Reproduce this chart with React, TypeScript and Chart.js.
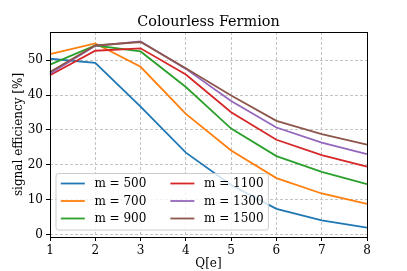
import React, { useEffect, useRef } from "react";
import { Chart, registerables } from "chart.js";

Chart.register(...registerables);

const chartTitle = "Colourless Fermion";
const xTitle = "Q[e]";
const yTitle = "signal efficiency [%]";
const qLabels = ["1", "2", "3", "4", "5", "6", "7", "8"];
const yTicks = [0, 10, 20, 30, 40, 50];

const seriesLabels = ["m = 500", "m = 700", "m = 900", "m = 1100", "m = 1300", "m = 1500"];
const seriesColors = ["#1f77b4", "#ff7f0e", "#2ca02c", "#d62728", "#9467bd", "#8c564b"];

const m500 = [50.4, 49.2, 36.7, 23.5, 14.2, 7.4, 4.1, 2.0];
const m700 = [51.7, 54.8, 48.1, 34.6, 24.1, 16.2, 11.8, 8.8];
const m900 = [48.7, 54.2, 52.5, 42.3, 30.4, 22.5, 18.0, 14.5];
const m1100 = [45.7, 52.7, 53.4, 45.9, 35.1, 27.2, 22.8, 19.5];
const m1300 = [46.1, 54.1, 55.4, 47.5, 38.3, 30.7, 26.4, 23.1];
const m1500 = [46.6, 54.2, 55.2, 47.7, 39.9, 32.6, 28.8, 25.8];

const seriesValues = [m500, m700, m900, m1100, m1300, m1500];

const FONT = '"DejaVu Serif", serif';
const FS = 12;

const framePlugin = {
  id: "mplFrame",
  afterDraw(chart: any) {
    const { ctx, chartArea: ca } = chart;
    ctx.save();
    // title
    ctx.font = `${FS * 1.2}px ${FONT}`;
    ctx.fillStyle = "#000";
    ctx.textAlign = "center";
    ctx.textBaseline = "alphabetic";
    ctx.fillText(chartTitle, (ca.left + ca.right) / 2, ca.top - 6);

    // spines
    ctx.strokeStyle = "#000";
    ctx.lineWidth = 1;
    ctx.strokeRect(Math.round(ca.left) + 0.5, Math.round(ca.top) + 0.5, Math.round(ca.right - ca.left), Math.round(ca.bottom - ca.top));

    // legend (2 columns, lower left)
    ctx.font = `${FS}px ${FONT}`;
    const em = FS;
    const handle = 2 * em;
    const textPad = 0.8 * em;
    const colSpace = 2 * em;
    const borderPad = 0.4 * em;
    const rowH = 17.5;
    const nRows = 3;
    const cols = [seriesLabels.slice(0, nRows), seriesLabels.slice(nRows)];
    const colWidths = cols.map((c) => handle + textPad + Math.max(...c.map((t) => ctx.measureText(t).width)));
    const boxW = borderPad * 2 + colWidths[0] + colSpace + colWidths[1];
    const boxH = 56.5;
    const boxL = ca.left + 0.5 * em;
    const boxB = ca.bottom - 7;
    const boxT = boxB - boxH;
    const r = 2.5;
    ctx.beginPath();
    ctx.moveTo(boxL + r, boxT);
    ctx.lineTo(boxL + boxW - r, boxT);
    ctx.arcTo(boxL + boxW, boxT, boxL + boxW, boxT + r, r);
    ctx.lineTo(boxL + boxW, boxB - r);
    ctx.arcTo(boxL + boxW, boxB, boxL + boxW - r, boxB, r);
    ctx.lineTo(boxL + r, boxB);
    ctx.arcTo(boxL, boxB, boxL, boxB - r, r);
    ctx.lineTo(boxL, boxT + r);
    ctx.arcTo(boxL, boxT, boxL + r, boxT, r);
    ctx.closePath();
    ctx.fillStyle = "rgba(255,255,255,0.8)";
    ctx.fill();
    ctx.strokeStyle = "#cccccc";
    ctx.lineWidth = 1;
    ctx.stroke();

    const firstRowY = boxT + 10;
    seriesLabels.forEach((label, i) => {
      const col = Math.floor(i / nRows);
      const row = i % nRows;
      const x0 = boxL + borderPad + (col === 0 ? 0 : colWidths[0] + colSpace);
      const y = firstRowY + row * rowH;
      ctx.strokeStyle = seriesColors[i];
      ctx.lineWidth = 1.8;
      ctx.beginPath();
      ctx.moveTo(x0, y);
      ctx.lineTo(x0 + handle, y);
      ctx.stroke();
      ctx.fillStyle = "#000";
      ctx.textAlign = "left";
      ctx.textBaseline = "middle";
      ctx.fillText(label, x0 + handle + textPad, y + 0.5);
    });
    ctx.restore();
  },
};

export default function App() {
  const canvasRef = useRef<HTMLCanvasElement | null>(null);

  useEffect(() => {
    document.body.style.margin = "0";
    const canvas = canvasRef.current;
    if (!canvas) return;
    const chart = new Chart(canvas, {
      type: "line",
      data: {
        labels: qLabels,
        datasets: seriesValues.map((vals, i) => ({
          label: seriesLabels[i],
          data: vals,
          borderColor: seriesColors[i],
          backgroundColor: seriesColors[i],
          borderWidth: 1.8,
          pointRadius: 0,
          tension: 0,
          fill: false,
          order: -i,
        })),
      },
      options: {
        responsive: false,
        animation: false,
        devicePixelRatio: 1,
        layout: { padding: { top: 32, right: 40, left: 0, bottom: 0 } },
        plugins: {
          legend: { display: false },
          title: { display: false },
          tooltip: { enabled: false },
        },
        scales: {
          x: {
            type: "category",
            offset: false,
            afterFit: (s: any) => {
              s.height = 34;
              s.paddingLeft = 0;
              s.paddingRight = 0;
            },
            grid: {
              offset: false,
              color: "#c4c4c4",
              lineWidth: 1,
              tickLength: 4,
              tickColor: "#000",
              tickWidth: 1,
              tickBorderDash: [],
            },
            border: { display: false, dash: [3, 2] },
            ticks: {
              color: "#000",
              font: { family: FONT, size: FS },
              padding: 3,
              maxRotation: 0,
              autoSkip: false,
            },
            title: {
              display: true,
              text: xTitle,
              color: "#000",
              font: { family: FONT, size: FS },
              padding: { top: 0, bottom: 0 },
            },
          },
          y: {
            type: "linear",
            min: -0.67,
            max: 58.07,
            afterFit: (s: any) => {
              s.width = 50;
            },
            afterBuildTicks: (s: any) => {
              s.ticks = yTicks.map((v) => ({ value: v }));
            },
            grid: {
              color: "#c4c4c4",
              lineWidth: 1,
              tickLength: 4,
              tickColor: "#000",
              tickWidth: 1,
              tickBorderDash: [],
            },
            border: { display: false, dash: [3, 2] },
            ticks: {
              color: "#000",
              font: { family: FONT, size: FS },
              padding: 3,
            },
            title: {
              display: true,
              text: yTitle,
              color: "#000",
              font: { family: FONT, size: FS },
              padding: { top: 12, bottom: 0 },
            },
          },
        },
      },
      plugins: [framePlugin],
    });
    return () => chart.destroy();
  }, []);

  return (
    <div style={{ width: 407, height: 271 }}>
      <canvas ref={canvasRef} width={407} height={271} style={{ display: "block" }} />
    </div>
  );
}
